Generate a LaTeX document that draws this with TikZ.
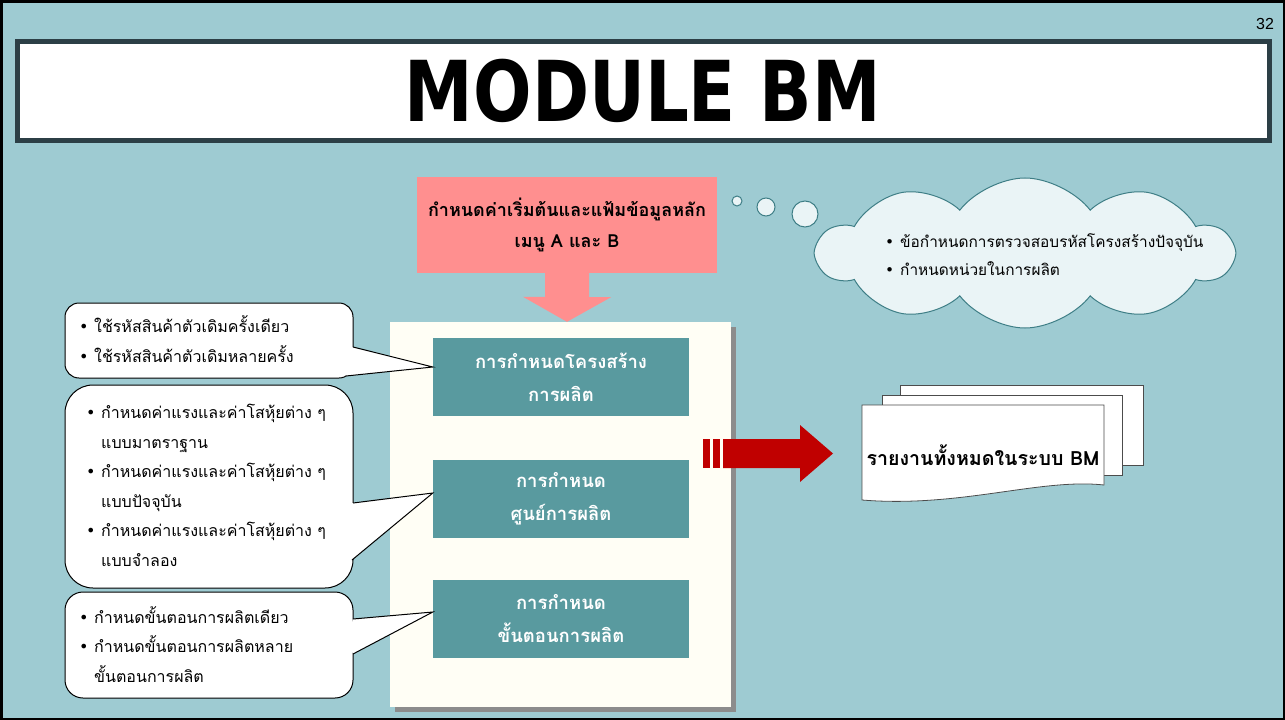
\documentclass[tikz,border=0pt]{standalone}
\usepackage{fontspec}
\usepackage{tikz}
\usetikzlibrary{positioning,shapes.symbols}
\newfontfamily\thaifont[Script=Thai]{Loma}
\newfontfamily\titlefont[FakeStretch=0.82]{DejaVu Sans}
\newfontfamily\numfont{Liberation Sans}
\newfontfamily\dotfont{DejaVu Sans}
\definecolor{bgteal}{RGB}{158,203,210}
\definecolor{framedark}{RGB}{44,63,70}
\definecolor{pinkbox}{RGB}{255,143,143}
\definecolor{tealbox}{RGB}{89,154,159}
\definecolor{ivory}{RGB}{255,254,245}
\definecolor{cloudfill}{RGB}{234,244,246}
\definecolor{cloudline}{RGB}{62,126,134}
\definecolor{darkred}{RGB}{192,0,0}
\newcommand{\bitem}[1]{\makebox[15pt][l]{\dotfont •}#1}
\newcommand{\bcont}[1]{\makebox[15pt][l]{}#1}

\begin{document}
\begin{tikzpicture}[x = 1pt, y = -1pt,
    every node/.style = {inner sep = 0pt, font = \thaifont},
    callout/.style = {draw, fill = white, line width = 1pt, rounded corners = 14pt, minimum width = 288pt},
    stepbox/.style = {fill = tealbox, minimum width = 256pt, minimum height = 78pt, align = center, text = white, font = \thaifont\bfseries\fontsize{18.5}{33}\selectfont},
    bulltext/.style = {anchor = base west, align = left, font = \thaifont\fontsize{16}{29.5}\selectfont},
    bubble/.style = {circle, draw = cloudline, fill = cloudfill, line width = 1pt},
    sheet/.style = {draw = black!70, fill = white, line width = .8pt}]
    \useasboundingbox (0,0) rectangle (1285,720);
    \fill[bgteal] (0,0) rectangle (1285,720);
    \draw[line width = 2.5pt] (1.25,1.25) rectangle (1283.75,718.75);
    \node[font = \numfont\fontsize{16}{16}\selectfont] (pagenum) at (1265,24) {32};
    \node[draw = framedark, line width = 5pt, fill = white, minimum width = 1252pt, minimum height = 99pt, font = \titlefont\bfseries\fontsize{84}{84}\selectfont] (titlebar) at (643,90.5) {MODULE BM};

    \node[fill = pinkbox, minimum width = 300pt, minimum height = 96pt, align = center, font = \thaifont\bfseries\fontsize{18}{31}\selectfont] (setup) at (567,225) {กำหนดค่าเริ่มต้นและแฟ้มข้อมูลหลัก\\เมนู A และ B};

    \fill[black!45] (395,327) rectangle (736,712);
    \node[fill = ivory, minimum width = 341pt, minimum height = 385pt] (panel) at (560.5,514.5) {};
    \fill[pinkbox] ([xshift = -22pt]setup.south) -- ++(44,0) -- ++(0,24) -- ++(22,0) -- (setup.south |- panel.north) -- ++(-44,-25) -- ++(22,0) -- cycle;

    \node[stepbox] (structure) at (561,377) {การกำหนดโครงสร้าง\\การผลิต};
    \node[stepbox] (workcenter) at (561,499) {การกำหนด\\ศูนย์การผลิต};
    \node[stepbox] (routing) at (561,619) {การกำหนด\\ขั้นตอนการผลิต};

    \node[callout, minimum height = 75pt] (usage) at (209,340.5) {};
    \fill[white] (353,347) -- ([yshift = 10pt]structure.west) -- (346,376) -- (340,347) -- cycle;
    \draw[line width = 1pt] (353,347) -- ([yshift = 10pt]structure.west) -- (346,376);
    \node[bulltext] (usagetext) at (79,362) {\bitem{ใช้รหัสสินค้าตัวเดิมครั้งเดียว}\\\bitem{ใช้รหัสสินค้าตัวเดิมหลายครั้ง}};

    \node[callout, rounded corners = 28pt, minimum height = 203pt] (rates) at (209,486.5) {};
    \fill[white] (353,503) -- ([yshift = 6pt]workcenter.west) -- (352,560) -- (345,503) -- cycle;
    \draw[line width = 1pt] (353,503) -- ([yshift = 6pt]workcenter.west) -- (352,560);
    \node[bulltext] (ratestext) at (86,566) {\bitem{กำหนดค่าแรงและค่าโสหุ้ยต่าง ๆ}\\\bcont{แบบมาตราฐาน}\\\bitem{กำหนดค่าแรงและค่าโสหุ้ยต่าง ๆ}\\\bcont{แบบปัจจุบัน}\\\bitem{กำหนดค่าแรงและค่าโสหุ้ยต่าง ๆ}\\\bcont{แบบจำลอง}};

    \node[callout, rounded corners = 18pt, minimum height = 106pt] (steps) at (209,645) {};
    \fill[white] (353,619) -- ([yshift = 7pt]routing.west) -- (353,654) -- (347,640) -- cycle;
    \draw[line width = 1pt] (353,619) -- ([yshift = 7pt]routing.west) -- (353,654);
    \node[bulltext] (stepstext) at (79,682) {\bitem{กำหนดขั้นตอนการผลิตเดียว}\\\bitem{กำหนดขั้นตอนการผลิตหลาย}\\\bcont{ขั้นตอนการผลิต}};

    \node[bubble, minimum size = 10pt] (dot1) at (737,201) {};
    \node[bubble, minimum size = 18pt] (dot2) at (766,207) {};
    \node[bubble, minimum size = 26pt] (dot3) at (805,214) {};
    \node[cloud, cloud puffs = 10, cloud puff arc = 105, cloud ignores aspect, draw = cloudline, fill = cloudfill, line width = 1pt, minimum width = 415pt, minimum height = 150pt] (memo) at (1025,253) {};
    \node[bulltext, font = \thaifont\fontsize{15.4}{28}\selectfont] (memotext) at (885,275) {\bitem{ข้อกำหนดการตรวจสอบรหัสโครงสร้างปัจจุบัน}\\\bitem{กำหนดหน่วยในการผลิต}};

    \fill[darkred] (703,439) rectangle (710,468);
    \fill[darkred] (713,439) rectangle (720,468);
    \fill[darkred] (723,439) -- (800,439) -- (800,425) -- (833,453.5) -- (800,482) -- (800,468) -- (723,468) -- cycle;

    \draw[sheet] (900,385) rectangle (1143,465);
    \draw[sheet] (882,395) rectangle (1122,475);
    \draw[sheet] (862,405) -- (1104,405) -- (1104,485) .. controls (1040,478) and (960,508) .. (862,500) -- cycle;
    \node[font = \thaifont\bfseries\fontsize{19.6}{19.6}\selectfont] (report) at (983,455) {รายงานทั้งหมดในระบบ BM};
\end{tikzpicture}
\end{document}
